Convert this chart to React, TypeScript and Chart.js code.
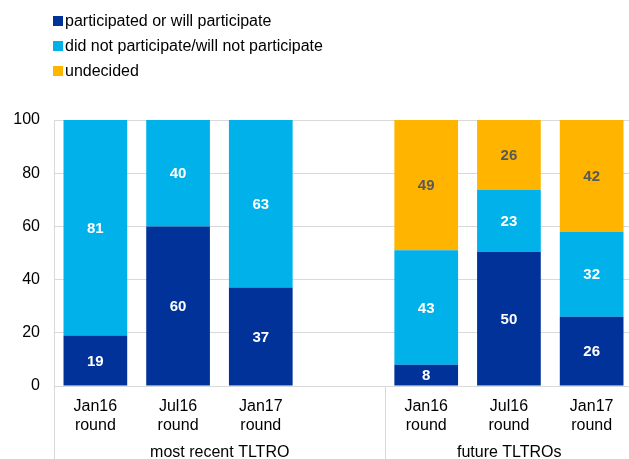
import React, { useEffect, useRef } from "react";
import { Chart, registerables } from "chart.js";

Chart.register(...registerables);

const categories: string[][] = [
  ["Jan16", "round"],
  ["Jul16", "round"],
  ["Jan17", "round"],
  ["", ""],
  ["Jan16", "round"],
  ["Jul16", "round"],
  ["Jan17", "round"],
];
const groupLabels = ["most recent TLTRO", "future TLTROs"];
const participated = [19, 60, 37, null, 8, 50.4, 26];
const notParticipated = [81, 40, 63, null, 43, 23.3, 32];
const undecided = [0, 0, 0, null, 49, 26.3, 42];
const yTicks = [0, 20, 40, 60, 80, 100];

const seriesNames = [
  "participated or will participate",
  "did not participate/will not participate",
  "undecided",
];
const seriesColors = ["#003299", "#00B1EA", "#FFB400"];
const labelColors = ["#ffffff", "#ffffff", "#595959"];

const FONT = "'Liberation Sans', Arial, sans-serif";
const GRID = "#d9d9d9";

const decorPlugin = {
  id: "decor",
  afterDraw(chart: any) {
    const ctx = chart.ctx;
    const x = chart.scales.x;
    const area = chart.chartArea;
    const H = chart.height;
    ctx.save();
    ctx.strokeStyle = GRID;
    ctx.lineWidth = 1;
    const sepX = Math.round((x.getPixelForValue(3) + x.getPixelForValue(4)) / 2) + 0.5;
    ctx.beginPath();
    ctx.moveTo(Math.round(area.left) + 0.5, area.bottom);
    ctx.lineTo(Math.round(area.left) + 0.5, H);
    ctx.moveTo(sepX, area.bottom);
    ctx.lineTo(sepX, H);
    ctx.stroke();
    ctx.fillStyle = "#000";
    ctx.font = `16px ${FONT}`;
    ctx.textAlign = "center";
    ctx.textBaseline = "alphabetic";
    const g1 = (area.left + sepX) / 2;
    const g2 = (sepX + area.right) / 2;
    ctx.fillText(groupLabels[0], g1, 457);
    ctx.fillText(groupLabels[1], g2, 457);
    ctx.textBaseline = "middle";
    ctx.font = `bold 15px ${FONT}`;
    chart.data.datasets.forEach((ds: any, di: number) => {
      const meta = chart.getDatasetMeta(di);
      meta.data.forEach((el: any, i: number) => {
        const v = ds.data[i];
        if (v == null || v <= 0) return;
        ctx.fillStyle = labelColors[di];
        ctx.fillText(String(Math.round(v)), el.x, (el.y + el.base) / 2 + 1);
      });
    });
    ctx.restore();
  },
};

export default function App() {
  const ref = useRef<HTMLCanvasElement>(null);
  useEffect(() => {
    document.body.style.margin = "0";
    document.body.style.overflow = "hidden";
    const chart = new Chart(ref.current!, {
      type: "bar",
      data: {
        labels: categories,
        datasets: [
          { label: seriesNames[0], data: participated, backgroundColor: seriesColors[0] },
          { label: seriesNames[1], data: notParticipated, backgroundColor: seriesColors[1] },
          { label: seriesNames[2], data: undecided, backgroundColor: seriesColors[2] },
        ],
      },
      options: {
        animation: false,
        responsive: false,
        devicePixelRatio: 1,
        layout: { padding: { top: 120, left: 0, right: 0, bottom: 0 } },
        datasets: { bar: { categoryPercentage: 1, barPercentage: 0.77 } },
        plugins: { legend: { display: false }, tooltip: { enabled: false } },
        scales: {
          x: {
            stacked: true,
            grid: { display: false },
            border: { display: true, color: GRID },
            afterFit: (s: any) => { s.height = 73; },
            ticks: { color: "#000", font: { family: FONT, size: 16, lineHeight: 1.2 }, padding: 3, maxRotation: 0, autoSkip: false },
          },
          y: {
            stacked: true,
            min: 0,
            max: 100,
            afterBuildTicks: (s: any) => { s.ticks = yTicks.map((v) => ({ value: v })); },
            afterFit: (s: any) => { s.width = 54; },
            grid: { color: GRID, drawTicks: false },
            border: { display: true, color: GRID },
            ticks: { color: "#000", font: { family: FONT, size: 16 }, padding: 14 },
          },
        },
      } as any,
      plugins: [decorPlugin],
    });
    return () => chart.destroy();
  }, []);
  return (
    <div style={{ position: "fixed", left: 0, top: 0, width: 629, height: 459, overflow: "hidden", background: "#fff" }}>
      <canvas ref={ref} width={633} height={459} style={{ position: "absolute", left: 0, top: 0 }} />
      <div style={{ position: "absolute", left: 53, top: 8, fontFamily: FONT, fontSize: 16, color: "#000" }}>
        {seriesNames.map((n, i) => (
          <div key={n} style={{ display: "flex", alignItems: "center", height: 25 }}>
            <span style={{ display: "inline-block", width: 10, height: 10, background: seriesColors[i], marginRight: 2 }} />
            <span>{n}</span>
          </div>
        ))}
      </div>
    </div>
  );
}
